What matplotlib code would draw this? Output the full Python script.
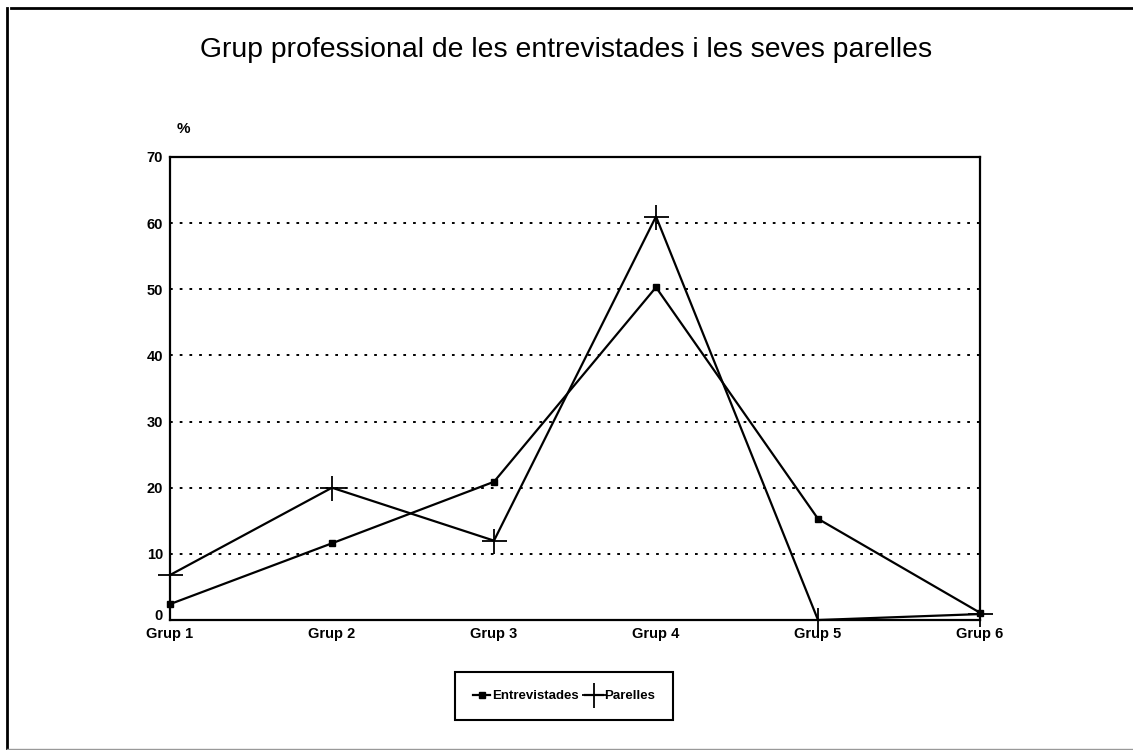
import matplotlib
matplotlib.use("Agg")
import matplotlib.pyplot as plt
import matplotlib.transforms as mtransforms
from matplotlib.lines import Line2D

plt.rcParams['font.family'] = ['Liberation Sans', 'DejaVu Sans']

grups = ['Grup 1', 'Grup 2', 'Grup 3', 'Grup 4', 'Grup 5', 'Grup 6']
entrevistades = [2.4, 11.6, 20.9, 50.3, 15.3, 1.1]
parelles = [6.8, 20.0, 12.0, 61.0, 0.0, 0.9]
yticks = [0, 10, 20, 30, 40, 50, 60, 70]

fig = plt.figure(figsize=(11.33, 7.5), dpi=100)
ax = fig.add_axes([0.150, 0.1733, 0.715, 0.6174])

x = list(range(len(grups)))
ax.plot(x, entrevistades, color='black', lw=1.6, marker='s', ms=4.5,
        label='Entrevistades', clip_on=False, zorder=3)
ax.plot(x, parelles, color='black', lw=1.6, marker='+', ms=18, mew=1.3,
        label='Parelles', clip_on=False, zorder=3)

ax.set_xlim(0, len(grups) - 1)
ax.set_ylim(0, 70)
ax.set_xticks(x)
ax.set_xticklabels(grups, fontsize=10.5, fontweight='bold')
ax.set_yticks(yticks)
ax.set_yticklabels([str(v) for v in yticks], fontsize=10.5, fontweight='bold')
ax.tick_params(length=0, pad=5)
ax.tick_params(axis='x', pad=5)

# lift the "0" a little so it clears "Grup 1"
lbl0 = ax.get_yticklabels()[0]
lbl0.set_transform(lbl0.get_transform() +
                   mtransforms.ScaledTranslation(0, 4/72, fig.dpi_scale_trans))

for v in yticks[1:-1]:
    ax.axhline(v, color='black', lw=1.4, ls=(0, (1.4, 3.6)), zorder=0)

for s in ax.spines.values():
    s.set_linewidth(1.6)

ax.text(0.008, 1.045, '%', transform=ax.transAxes, fontsize=11,
        fontweight='bold', ha='left', va='bottom')

fig.text(0.5, 0.933, 'Grup professional de les entrevistades i les seves parelles',
         ha='center', va='center', fontsize=20.4)

leg = fig.legend(loc='center', bbox_to_anchor=(0.498, 0.072), ncol=2,
                 prop={'size': 9.5, 'weight': 'bold'}, handlelength=1.3,
                 handletextpad=0.15, columnspacing=0.5, borderpad=1.35,
                 fancybox=False, edgecolor='black', framealpha=1)
leg.get_frame().set_linewidth(1.5)

# outer frame of the page
fig.add_artist(Line2D([11/1133, 1.0], [1 - 8/750, 1 - 8/750],
                      transform=fig.transFigure, color='black', lw=2))
fig.add_artist(Line2D([7/1133, 7/1133], [1 - 8/750, 0.0],
                      transform=fig.transFigure, color='black', lw=2))
fig.add_artist(Line2D([7/1133, 1.0], [1/750, 1/750],
                      transform=fig.transFigure, color='#999999', lw=1))

fig.savefig('out.png', dpi=100)
